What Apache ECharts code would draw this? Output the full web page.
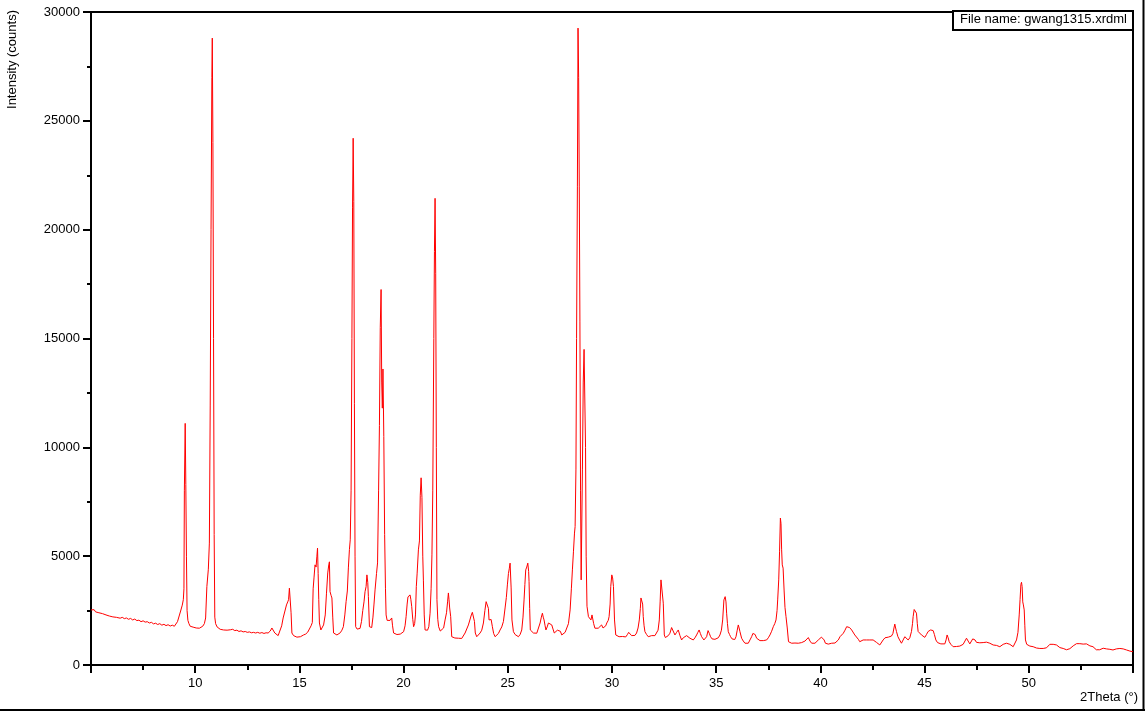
<!DOCTYPE html>
<html>
<head>
<meta charset="utf-8">
<script src="https://cdn.jsdelivr.net/npm/echarts@6/dist/echarts.min.js"></script>
<style>
html,body{margin:0;padding:0;background:#fff;}
#chart{width:1145px;height:711px;}
</style>
</head>
<body>
<div id="chart"></div>
<script>
// 2Theta (deg) / Intensity (counts)
const scanA = [[5.00,2530],[5.08,2480],[5.15,2540],[5.22,2440],[5.30,2470],[5.38,2400],[5.46,2430],[5.55,2360],[5.63,2390],[5.72,2300],[5.80,2320],[5.88,2250],[5.97,2290],[6.05,2210],[6.14,2260],[6.22,2190],[6.31,2230],[6.40,2150],[6.50,2190],[6.60,2130],[6.70,2160],[6.80,2100],[6.90,2140],[7.00,2070],[7.10,2110],[7.20,2040],[7.30,2060],[7.40,1990],[7.50,2030],[7.60,1970],[7.70,1990],[7.80,1930],[7.90,1960],[8.00,1890],[8.10,1920],[8.20,1860],[8.30,1900],[8.40,1830],[8.50,1870],[8.60,1810],[8.70,1850],[8.80,1790],[8.90,1830],[9.00,1780],[9.08,1820],[9.15,1990],[9.22,2000],[9.30,2480],[9.38,2750],[9.43,3000],[9.46,3500],[9.48,8000],[9.52,11100],[9.55,8300],[9.58,5000],[9.61,2500],[9.65,2050],[9.70,1900],[9.76,1780],[9.82,1700],[9.90,1740],[9.97,1650],[10.05,1700],[10.12,1640],[10.20,1690],[10.28,1720],[10.36,1780],[10.44,1900],[10.50,2160],[10.56,3600],[10.63,4400],[10.68,5600],[10.72,11900],[10.76,20000],[10.80,27000],[10.82,28800],[10.85,24000],[10.88,15000],[10.91,6000],[10.94,2200],[10.98,1900],[11.05,1750],[11.12,1700],[11.20,1640],[11.28,1690],[11.36,1610],[11.45,1660],[11.53,1600],[11.62,1680],[11.70,1620],[11.80,1640],[11.90,1580],[12.00,1600],[12.10,1540],[12.20,1570],[12.30,1520],[12.40,1540],[12.50,1500],[12.60,1520],[12.70,1480],[12.80,1500],[12.90,1470],[13.00,1500],[13.10,1460],[13.20,1490],[13.30,1450],[13.40,1480],[13.50,1470],[13.60,1560],[13.68,1700],[13.75,1640],[13.82,1470],[13.90,1400],[13.98,1350],[14.05,1420],[14.15,1800],[14.22,2160],[14.30,2250],[14.38,2760],[14.44,2900],[14.48,3000],[14.52,3530],[14.57,3500],[14.60,2400],[14.64,1470],[14.72,1350],[14.80,1310],[14.88,1280],[14.96,1330],[15.05,1300],[15.12,1370],[15.20,1380]];
const scanB = [[15.30,1420],[15.40,1510],[15.48,1600],[15.56,1800],[15.62,1950],[15.66,3500],[15.70,4000],[15.75,4600],[15.80,4500],[15.84,5000],[15.87,5370],[15.90,4200],[15.93,3000],[15.96,1930],[16.03,1610],[16.10,1700],[16.16,1840],[16.24,2300],[16.30,3300],[16.36,4230],[16.41,4600],[16.44,4740],[16.47,3370],[16.52,3200],[16.56,3080],[16.60,2200],[16.64,1470],[16.72,1400],[16.80,1380],[16.88,1400],[16.96,1480],[17.04,1600],[17.11,1760],[17.18,2300],[17.24,2910],[17.30,3400],[17.35,4460],[17.40,5300],[17.44,5750],[17.48,8000],[17.52,15000],[17.55,21000],[17.58,24200],[17.61,21300],[17.64,12000],[17.67,5000],[17.70,1760],[17.77,1650],[17.84,1610],[17.91,1680],[17.98,2000],[18.04,2500],[18.10,2900],[18.15,3370],[18.20,3600],[18.24,4140],[18.28,3800],[18.31,3140],[18.36,1760],[18.42,1700],[18.47,1720],[18.53,2200],[18.58,2800],[18.63,3450],[18.70,4200],[18.75,4690],[18.80,8000],[18.84,11000],[18.88,15500],[18.92,17250],[18.95,13000],[18.98,11800],[19.01,13600],[19.05,10500],[19.09,6000],[19.13,3500],[19.16,2300],[19.21,2050],[19.27,1990],[19.35,2050],[19.43,2160],[19.47,1800],[19.52,1470],[19.60,1440],[19.68,1400],[19.76,1430],[19.84,1420],[19.92,1480],[20.00,1530],[20.07,1800],[20.12,2220],[20.17,2800],[20.21,3130],[20.26,3100],[20.31,3220],[20.35,3000],[20.39,2680],[20.44,2100],[20.48,1760],[20.53,1900],[20.57,2300],[20.61,3600],[20.65,4220],[20.71,5290],[20.76,5700],[20.80,7800],[20.84,8600],[20.88,7700],[20.92,5000],[20.95,3900],[20.99,2300],[21.03,1610],[21.09,1530],[21.15,1600],[21.21,1760],[21.27,2380],[21.32,3500],[21.36,5060],[21.40,8000],[21.45,15000],[21.48,19000],[21.51,21440],[21.54,18000],[21.57,10000],[21.60,3000],[21.64,2100],[21.68,1760],[21.76,1560],[21.84,1470],[21.92,1700],[21.99,2070],[22.06,2400],[22.11,2900],[22.15,3310],[22.18,3000],[22.21,2620],[22.26,2220],[22.31,1300],[22.38,1280],[22.46,1240],[22.55,1260],[22.63,1230],[22.71,1240],[22.79,1220],[22.87,1280],[22.95,1470],[23.03,1530],[23.11,1840],[23.19,1930],[23.25,2300],[23.30,2420],[23.36,2400],[23.40,2000],[23.44,1470],[23.51,1300],[23.59,1380],[23.67,1470],[23.75,1600],[23.83,1930],[23.90,2500],[23.96,2910],[24.02,2990],[24.07,2600],[24.10,2070],[24.15,2150],[24.20,2090],[24.26,1760],[24.32,1450],[24.39,1300],[24.47,1380],[24.55,1450],[24.63,1610],[24.71,1750],[24.79,2000],[24.87,2620],[24.93,3100],[24.98,3680],[25.03,4200],[25.07,4420],[25.11,4680],[25.16,3540],[25.20,2070],[25.27,1530],[25.35,1400],[25.43,1330]];
const scanC = [[25.51,1300],[25.59,1400],[25.67,1610],[25.73,2200],[25.78,2990],[25.82,3700],[25.86,4370],[25.91,4500],[25.96,4680],[26.00,4300],[26.02,3830],[26.05,2600],[26.08,1610],[26.15,1520],[26.23,1470],[26.31,1500],[26.39,1460],[26.47,1470],[26.55,1930],[26.61,2200],[26.66,2380],[26.70,2200],[26.74,2070],[26.79,1800],[26.83,1610],[26.89,1750],[26.95,1930],[27.03,1900],[27.11,1840],[27.17,1650],[27.23,1470],[27.30,1520],[27.38,1600],[27.46,1680],[27.52,1550],[27.59,1380],[27.67,1450],[27.75,1500],[27.83,1530],[27.91,1900],[27.99,2530],[28.05,3500],[28.10,4370],[28.15,5200],[28.20,6060],[28.23,6360],[28.27,9000],[28.30,15000],[28.34,22000],[28.37,29260],[28.40,27000],[28.43,22000],[28.46,15800],[28.49,8000],[28.52,3910],[28.55,4000],[28.58,9000],[28.62,13000],[28.66,14500],[28.70,14490],[28.73,10000],[28.76,5000],[28.80,2700],[28.87,2220],[28.93,2150],[28.99,2070],[29.04,2300],[29.07,2300],[29.12,1900],[29.18,1690],[29.26,1720],[29.34,1690],[29.42,1760],[29.50,1840],[29.57,1700],[29.63,1610],[29.70,1800],[29.75,1930],[29.82,2050],[29.86,2220],[29.91,2800],[29.94,3600],[29.99,4140],[30.03,4000],[30.07,3600],[30.12,2070],[30.18,1380],[30.26,1320],[30.34,1300],[30.42,1350],[30.50,1310],[30.58,1340],[30.66,1290],[30.74,1400],[30.80,1500],[30.86,1470],[30.94,1350],[31.02,1300],[31.10,1360],[31.18,1470],[31.25,1700],[31.31,2070],[31.36,2600],[31.39,3080],[31.44,3000],[31.47,2800],[31.50,2220],[31.54,1800],[31.58,1530],[31.66,1400],[31.74,1300],[31.82,1300],[31.90,1350],[31.98,1380],[32.06,1350],[32.14,1380],[32.21,1600],[32.27,2070],[32.31,2900],[32.35,3910],[32.41,3990],[32.46,2840],[32.51,1380],[32.56,1260],[32.62,1230],[32.70,1350],[32.78,1460],[32.86,1720],[32.94,1690],[33.02,1380],[33.10,1500],[33.18,1610],[33.26,1350],[33.34,1150],[33.42,1250],[33.50,1300],[33.58,1350],[33.66,1380],[33.74,1230],[33.82,1200],[33.90,1150],[33.98,1250],[34.06,1380],[34.12,1500],[34.18,1610],[34.24,1450],[34.30,1300],[34.36,1220],[34.41,1150],[34.48,1200],[34.54,1300],[34.61,1580],[34.67,1450],[34.73,1300],[34.80,1200],[34.86,1150],[34.94,1180],[35.02,1150]];
const scanD = [[35.10,1250],[35.18,1380],[35.25,1600],[35.31,2070],[35.37,2990],[35.43,3140],[35.47,2900],[35.50,2380],[35.54,1900],[35.58,1530],[35.64,1400],[35.69,1300],[35.76,1200],[35.82,1150],[35.89,1170],[35.95,1300],[36.01,1600],[36.06,1840],[36.10,1700],[36.14,1530],[36.22,1230],[36.30,1100],[36.38,1000],[36.46,1050],[36.54,1000],[36.62,1150],[36.70,1300],[36.76,1450],[36.81,1530],[36.87,1400],[36.94,1230],[37.02,1150],[37.10,1120],[37.18,1150],[37.26,1120],[37.34,1160],[37.42,1150],[37.50,1250],[37.58,1380],[37.66,1550],[37.74,1760],[37.81,1900],[37.87,2070],[37.92,2500],[37.95,2990],[38.00,3910],[38.04,5200],[38.08,6750],[38.11,6500],[38.14,5290],[38.17,4600],[38.21,4450],[38.26,3400],[38.30,2650],[38.35,2220],[38.41,1700],[38.47,1070],[38.54,1030],[38.62,1000],[38.70,980],[38.78,1010],[38.86,970],[38.94,1000],[39.02,990],[39.10,1030],[39.18,1030],[39.26,1100],[39.34,1180],[39.42,1260],[39.50,1100],[39.58,1000],[39.66,920],[39.74,1000],[39.82,1080],[39.90,1150],[39.98,1200],[40.05,1280],[40.11,1300],[40.18,1150],[40.24,1000],[40.30,920],[40.38,960],[40.46,1000],[40.54,1000],[40.62,980],[40.70,1010],[40.78,1000],[40.86,1150],[40.94,1300],[41.02,1380],[41.10,1460],[41.18,1600],[41.26,1760],[41.30,1700],[41.34,1790],[41.40,1720],[41.45,1690],[41.50,1610],[41.57,1540],[41.65,1380],[41.74,1300],[41.82,1180],[41.89,1070],[41.97,1100],[42.05,1150],[42.13,1100],[42.21,1150],[42.29,1130],[42.37,1150],[42.45,1160],[42.53,1150],[42.61,1080],[42.69,1040],[42.77,1000],[42.85,920],[42.93,1000],[43.01,1150],[43.10,1250],[43.18,1300],[43.26,1280],[43.34,1320],[43.41,1330],[43.48,1450],[43.53,1700],[43.57,1880],[43.61,1700],[43.65,1540],[43.72,1300],[43.80,1150],[43.89,1000],[43.97,1150],[44.05,1300],[44.13,1250],[44.21,1150],[44.29,1250],[44.37,1540],[44.42,1900],[44.45,2220],[44.50,2550],[44.53,2640],[44.57,2500],[44.61,2380],[44.65,1900],[44.69,1540],[44.77,1460],[44.85,1380],[44.93,1300],[45.01,1270],[45.09,1400],[45.17,1540],[45.23,1500],[45.29,1610],[45.35,1550],[45.41,1580],[45.47,1400],[45.54,1150],[45.62,1030],[45.70,980],[45.78,970],[45.86,990],[45.97,970],[46.03,1150],[46.08,1380],[46.13,1250],[46.18,1070],[46.26,950],[46.37,840],[46.45,880],[46.53,850],[46.61,900],[46.69,870],[46.77,930],[46.85,950],[46.93,1000],[47.01,1230],[47.09,1100],[47.17,970],[47.25,1050],[47.31,1200],[47.36,1290],[47.42,1150],[47.49,1040],[47.57,1000],[47.65,1020],[47.73,970],[47.81,1030],[47.89,1000],[47.97,1050],[48.05,1070],[48.13,1000],[48.21,950],[48.29,920],[48.37,960],[48.45,900],[48.53,870],[48.61,840],[48.69,900],[48.77,950],[48.85,980],[48.93,1000],[49.01,1020],[49.09,950],[49.17,900],[49.25,840],[49.33,900],[49.41,1150],[49.48,1500],[49.54,2300],[49.58,3000],[49.62,3700],[49.65,3800],[49.68,3600],[49.71,2900],[49.74,2760],[49.78,2530],[49.81,1800],[49.84,1150],[49.90,950],[49.97,890],[50.05,870],[50.13,850],[50.21,840],[50.29,800],[50.37,780],[50.45,800],[50.53,760],[50.61,780],[50.69,760],[50.77,800],[50.85,790],[50.93,870],[51.01,950],[51.09,1000],[51.17,950],[51.25,900],[51.33,920],[51.41,850],[51.49,800],[51.57,780],[51.65,760],[51.73,740],[51.81,700],[51.89,690],[51.97,750],[52.05,830],[52.13,880],[52.21,920],[52.29,980],[52.37,1020],[52.45,980],[52.53,930],[52.61,960],[52.69,940],[52.77,970],[52.85,920],[52.93,880],[53.01,860],[53.08,840],[53.16,780],[53.24,700],[53.32,660],[53.40,700],[53.48,740],[53.57,770],[53.65,760],[53.73,740],[53.81,760],[53.89,720],[53.97,700],[54.04,690],[54.12,720],[54.20,740],[54.28,760],[54.37,760],[54.45,780],[54.53,740],[54.61,720],[54.69,690],[54.77,660],[54.85,640],[54.93,620],[55.00,610]];

const xTitle = '2Theta (°)';
const yTitle = 'Intensity (counts)';
const legendText = 'File name: gwang1315.xrdml';
const xHiddenLabels = [5, 55];

const scan = scanA.concat(scanB, scanC, scanD);
const font = '"Liberation Sans", Arial, sans-serif';

const chart = echarts.init(document.getElementById('chart'), null, {renderer: 'canvas'});
chart.setOption({
  animation: false,
  backgroundColor: '#ffffff',
  grid: {left: 91, right: 12, top: 12, bottom: 46, show: true, borderColor: '#000', borderWidth: 2, backgroundColor: 'transparent'},
  xAxis: {
    type: 'value', min: 5, max: 55, interval: 5,
    axisLine: {show: true, onZero: false, lineStyle: {color: '#000', width: 2}},
    axisTick: {show: true, length: 8, lineStyle: {color: '#000', width: 2}},
    minorTick: {show: true, splitNumber: 2, length: 5, lineStyle: {color: '#000', width: 2}},
    splitLine: {show: false},
    axisLabel: {color: '#000', fontFamily: font, fontSize: 13, margin: 12,
      formatter: v => xHiddenLabels.includes(v) ? '' : String(v)}
  },
  yAxis: {
    type: 'value', min: 0, max: 30000, interval: 5000,
    axisLine: {show: true, onZero: false, lineStyle: {color: '#000', width: 2}},
    axisTick: {show: true, length: 8, lineStyle: {color: '#000', width: 2}},
    minorTick: {show: true, splitNumber: 2, length: 4, lineStyle: {color: '#000', width: 2}},
    splitLine: {show: false},
    axisLabel: {color: '#000', fontFamily: font, fontSize: 13, margin: 11,
      formatter: v => String(v)}
  },
  series: [{
    type: 'line', data: scan, showSymbol: false, symbol: 'none',
    lineStyle: {color: '#ff0000', width: 1}, itemStyle: {color: '#ff0000'},
    sampling: null, clip: true
  }],
  graphic: [
    {type: 'text', left: 6, top: 10, style: {text: yTitle, font: '13px ' + font, fill: '#000'},
     rotation: Math.PI / 2, originX: 0, originY: 0, z: 10},
    {type: 'text', right: 7, top: 691, style: {text: xTitle, font: '13px ' + font, fill: '#000'}, z: 10},
    {type: 'rect', shape: {x: 953, y: 11, width: 180, height: 19}, style: {fill: '#fff', stroke: '#000', lineWidth: 2}, z: 10},
    {type: 'text', x: 960, y: 13, style: {text: legendText, font: '13px ' + font, fill: '#000'}, z: 11},
    {type: 'line', shape: {x1: 1143.5, y1: 0, x2: 1143.5, y2: 711}, style: {stroke: '#000', lineWidth: 2}, z: 10},
    {type: 'line', shape: {x1: 0, y1: 710, x2: 1145, y2: 710}, style: {stroke: '#000', lineWidth: 2}, z: 10}
  ]
});
</script>
</body>
</html>
